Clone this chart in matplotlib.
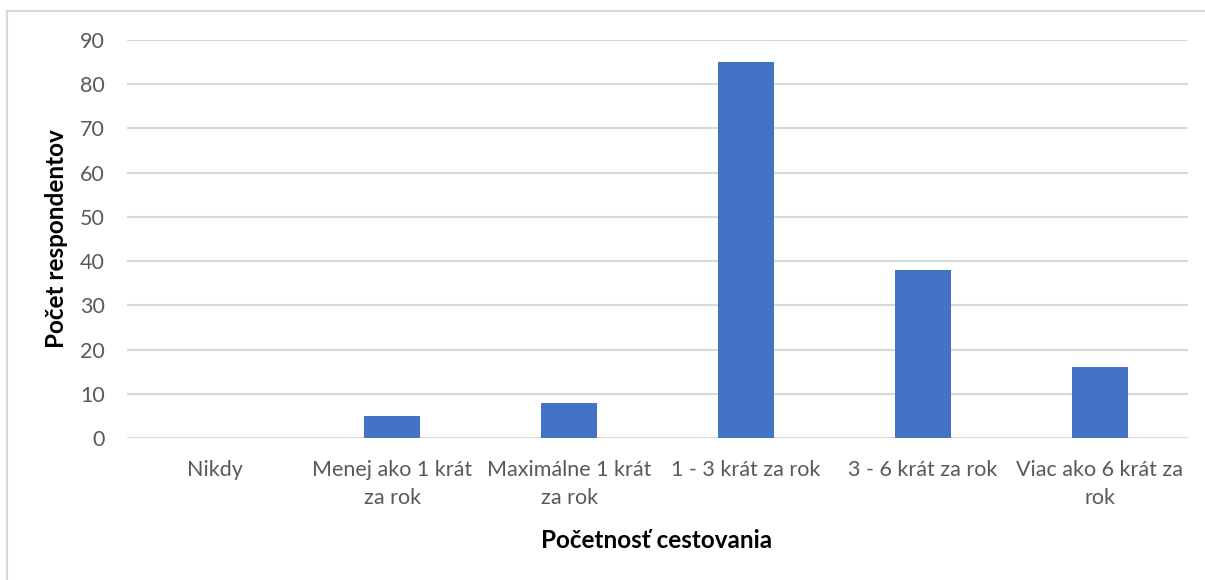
import matplotlib
matplotlib.use("Agg")
import matplotlib.pyplot as plt
from matplotlib.patches import Rectangle

categories = ["Nikdy", "Menej ako 1 krát\nza rok", "Maximálne 1 krát\nza rok",
              "1 - 3 krát za rok", "3 - 6 krát za rok", "Viac ako 6 krát za\nrok"]
values = [0, 5, 8, 85, 38, 16]
yticks = [0, 10, 20, 30, 40, 50, 60, 70, 80, 90]

plt.rcParams['font.family'] = ['Lato', 'DejaVu Sans']

fig = plt.figure(figsize=(12.05, 5.8), dpi=100)
ax = fig.add_axes([127/1205, 1 - 438/580, (1188-127)/1205, (438-40)/580])

x = list(range(len(categories)))
ax.bar(x, values, width=0.316, color="#4472C4", zorder=3)
ax.set_xlim(-0.5, len(categories) - 0.5)
ax.set_ylim(0, 90)
ax.set_yticks(yticks)
ax.set_xticks(x)
ax.set_xticklabels(categories, fontsize=15.5, color="#595959", linespacing=1.5)
ax.tick_params(axis='y', labelsize=15.5, labelcolor="#595959", length=0, pad=16)
ax.tick_params(axis='x', length=0, pad=16)
ax.grid(axis='y', color="#D9D9D9", linewidth=1.5, zorder=0)
for s in ax.spines.values():
    s.set_visible(False)

ax.set_ylabel("Počet respondentov", fontsize=17.5, fontweight='bold', color="black",
              va='center')
ax.yaxis.set_label_coords((57 - 127) / 1061, 0.5)
fig.text(657/1205, 1 - 540/580, "Početnosť cestovania", fontsize=17.5,
         fontweight='bold', color="black", ha='center', va='center')

fig.patches.append(Rectangle((7/1205, -0.1), 1.2, 1 - 11/580 + 0.1, transform=fig.transFigure,
                             fill=False, edgecolor="#D9D9D9", linewidth=1.5))

fig.savefig("out.png", dpi=100)
